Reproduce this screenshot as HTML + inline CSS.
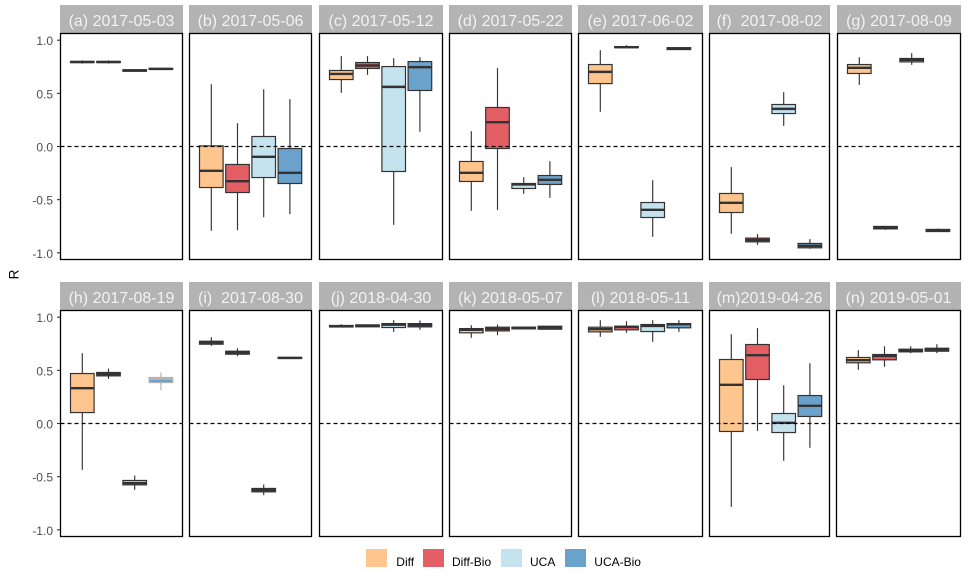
<!DOCTYPE html>
<html lang="en">
<head>
<meta charset="utf-8">
<title>R by date and model</title>
<style>
html,body{margin:0;padding:0;background:#fff;}
body{width:969px;height:573px;overflow:hidden;}
svg{display:block;font-family:"Liberation Sans",Arial,sans-serif;}
</style>
</head>
<body>
<svg id="chart" width="969" height="573" viewBox="0 0 969 573" xmlns="http://www.w3.org/2000/svg"></svg>
<script>
// Panel titles, in reading order
const panelTitles = ["(a) 2017-05-03","(b) 2017-05-06","(c) 2017-05-12","(d) 2017-05-22","(e) 2017-06-02","(f)  2017-08-02","(g) 2017-08-09","(h) 2017-08-19","(i)  2017-08-30","(j) 2018-04-30","(k) 2018-05-07","(l) 2018-05-11","(m)2019-04-26","(n) 2019-05-01"];
const seriesNames = ["Diff","Diff-Bio","UCA","UCA-Bio"];
const yTicks = [1.0,0.5,0.0,-0.5,-1.0];
const yTickLabels = ["1.0","0.5","0.0","-0.5","-1.0"];
const referenceValue = 0;
// One row per panel: [lower whisker, Q1, median, Q3, upper whisker]; null = no box
const diffBoxes = [
 [0.78,0.79,0.795,0.80,0.81],
 [-0.793,-0.386,-0.229,0.006,0.586],
 [0.505,0.63,0.683,0.715,0.85],
 [-0.605,-0.329,-0.248,-0.141,0.144],
 [0.326,0.592,0.702,0.771,0.906],
 [-0.821,-0.621,-0.53,-0.442,-0.194],
 [0.58,0.687,0.74,0.771,0.84],
 [-0.436,0.103,0.332,0.47,0.661],
 [0.73,0.746,0.762,0.774,0.812],
 [0.906,0.908,0.915,0.922,0.934],
 [0.806,0.853,0.881,0.893,0.925],
 [0.815,0.862,0.887,0.906,0.972],
 [-0.784,-0.075,0.364,0.602,0.84],
 [0.505,0.571,0.596,0.621,0.69]
];
const diffBioBoxes = [
 [0.78,0.79,0.795,0.80,0.81],
 [-0.787,-0.433,-0.326,-0.169,0.219],
 [0.674,0.734,0.762,0.79,0.85],
 [-0.596,-0.019,0.229,0.367,0.737],
 [0.928,0.93,0.934,0.94,0.953],
 [-0.925,-0.897,-0.88,-0.862,-0.824],
 [-0.784,-0.775,-0.762,-0.752,-0.75],
 [0.42,0.448,0.464,0.48,0.517],
 [0.633,0.652,0.668,0.68,0.708],
 [0.905,0.91,0.918,0.928,0.93],
 [0.831,0.871,0.89,0.906,0.931],
 [0.853,0.881,0.909,0.915,0.962],
 [-0.069,0.414,0.643,0.743,0.897],
 [0.533,0.599,0.636,0.649,0.727]
];
const ucaBoxes = [
 [0.705,0.708,0.715,0.722,0.725],
 [-0.665,-0.292,-0.097,0.094,0.539],
 [-0.737,-0.235,0.561,0.752,0.831],
 [-0.445,-0.395,-0.357,-0.348,-0.288],
 [-0.85,-0.668,-0.596,-0.527,-0.317],
 [0.194,0.31,0.354,0.395,0.511],
 [0.768,0.796,0.815,0.828,0.878],
 [-0.624,-0.577,-0.561,-0.536,-0.489],
 [-0.674,-0.643,-0.627,-0.611,-0.574],
 [0.862,0.903,0.93,0.94,0.972],
 [0.884,0.89,0.9,0.906,0.912],
 [0.768,0.865,0.918,0.931,0.972],
 [-0.351,-0.085,0.006,0.094,0.36],
 [0.661,0.674,0.687,0.699,0.727]
];
const ucaBioBoxes = [
 [0.722,0.726,0.73,0.735,0.737],
 [-0.636,-0.348,-0.248,-0.019,0.445],
 [0.138,0.527,0.746,0.799,0.84],
 [-0.483,-0.357,-0.313,-0.273,-0.138],
 [0.91,0.912,0.92,0.93,0.932],
 [-0.962,-0.953,-0.934,-0.912,-0.871],
 [-0.80,-0.80,-0.79,-0.78,-0.771],
 [0.313,0.385,0.42,0.433,0.48],
 [0.61,0.612,0.617,0.622,0.624],
 [0.881,0.909,0.925,0.94,0.969],
 [0.885,0.887,0.903,0.915,0.918],
 [0.862,0.9,0.934,0.94,0.972],
 [-0.229,0.066,0.166,0.263,0.567],
 [0.661,0.68,0.696,0.708,0.746]
];

const NS = "http://www.w3.org/2000/svg";
const svg = document.getElementById("chart");
const seriesBoxes = [diffBoxes, diffBioBoxes, ucaBoxes, ucaBioBoxes];
const seriesFills = ["#FEC68E","#E35F64","#C4E3EF","#6BA2CB"];
const panelEdges = [[60.5,182.5],[189.5,311.5],[319.5,442.5],[449.5,571.5],[578.5,702.5],[709.5,829.5],[837.5,960.5],
                    [60.5,182.5],[189.5,311.5],[319.5,442.5],[449.5,571.5],[578.5,702.5],[709.5,829.5],[836.5,960.5]];
const rowTops = [33.5,310.5];
const panelHeight = 226;
const stripHeight = 28.5;
const zeroOffset = 113;
const unitPx = 106.3;
const boxSpacing = 26.2;
const boxFirstOffset = 21.8;
const boxWidth = 23.6;
const DARK = "#333333";
const MUTED = "#B3B3B3";

function el(tag, attrs, parent) {
  const node = document.createElementNS(NS, tag);
  for (const k in attrs) node.setAttribute(k, attrs[k]);
  (parent || svg).appendChild(node);
  return node;
}
function yScale(row, value) {
  return rowTops[row] + zeroOffset - value * unitPx;
}
function xScale(panel, seriesIndex) {
  return panelEdges[panel][0] + boxFirstOffset + seriesIndex * boxSpacing;
}

function drawBox(group, panel, row, s, stats) {
  if (!stats) return;
  const [low, q1, med, q3, high] = stats;
  const cx = xScale(panel, s);
  const muted = panel === 7 && s === 3;
  const stroke = muted ? MUTED : DARK;
  const g = el("g", {}, group);
  
  
  const whisker = el("line", {x1:cx, x2:cx, y1:yScale(row,high), y2:yScale(row,low), stroke:stroke, "stroke-width":1.15}, g);
  
  
  const top = yScale(row,q3), bottom = yScale(row,q1);
  const rect = el("rect", {x:cx-boxWidth/2, y:top, width:boxWidth, height:Math.max(bottom-top,0.5), fill:seriesFills[s], stroke:stroke, "stroke-width":1.2}, g);
  
  
  const m = yScale(row,med);
  const median = el("line", {x1:cx-boxWidth/2, x2:cx+boxWidth/2, y1:m, y2:m, stroke:stroke, "stroke-width":2.4}, g);
  
  
}

panelTitles.forEach(function (title, p) {
  const row = p < 7 ? 0 : 1;
  const [left, right] = panelEdges[p];
  const top = rowTops[row];
  const w = right - left;
  const panel = el("g", {});
  
  

  const strip = el("rect", {x:left-0.5, y:top-stripHeight, width:w+1, height:stripHeight, fill:"#B3B3B3"}, panel);
  
  
  const label = el("text", {x:left+w/2, y:top-7.5, "text-anchor":"middle", "font-size":16, fill:"#F2F2F2"}, panel);
  
  
  label.setAttribute('xml:space', 'preserve');
  label.style.whiteSpace = "pre";
  label.textContent = title;

  const bg = el("rect", {x:left, y:top, width:w, height:panelHeight, fill:"#FFFFFF"}, panel);
  
  

  seriesBoxes.forEach(function (boxes, s) {
    drawBox(panel, p, row, s, boxes[p]);
  });

  const y0 = yScale(row, referenceValue);
  const refLine = el("line", {x1:left, x2:right, y1:y0, y2:y0, stroke:"#000", "stroke-width":1.15, "stroke-dasharray":"4 3"}, panel);
  
  

  const border = el("rect", {x:left, y:top, width:w, height:panelHeight, fill:"none", stroke:"#000", "stroke-width":1.3}, panel);
  
  
});

[0,1].forEach(function (row) {
  const axis = el("g", {});
  
  
  yTicks.forEach(function (v, i) {
    const y = yScale(row, v);
    const tick = el("line", {x1:57, x2:60, y1:y, y2:y, stroke:DARK, "stroke-width":1.1}, axis);
    
    
    const t = el("text", {x:53, y:y+5, "text-anchor":"end", "font-size":12, fill:"#4D4D4D"}, axis);
    
    
    t.textContent = yTickLabels[i];
  });
});

const yTitle = el("text", {x:0, y:0, transform:"translate(18.5 274.5) rotate(-90)", "text-anchor":"middle", "font-size":13.5, fill:"#000"});


yTitle.textContent = "R";

const legendSwatchX = [366,423,501,565];
const legendLabelX = [396.3,452,530,594.3];
const legend = el("g", {});


seriesNames.forEach(function (name, i) {
  const entry = el("g", {}, legend);
  
  
  const sw = el("rect", {x:legendSwatchX[i], y:549, width:21, height:18, fill:seriesFills[i]}, entry);
  
  
  const t = el("text", {x:legendLabelX[i], y:566, "font-size":12, fill:"#000"}, entry);
  
  
  t.textContent = name;
});
</script>
</body>
</html>
